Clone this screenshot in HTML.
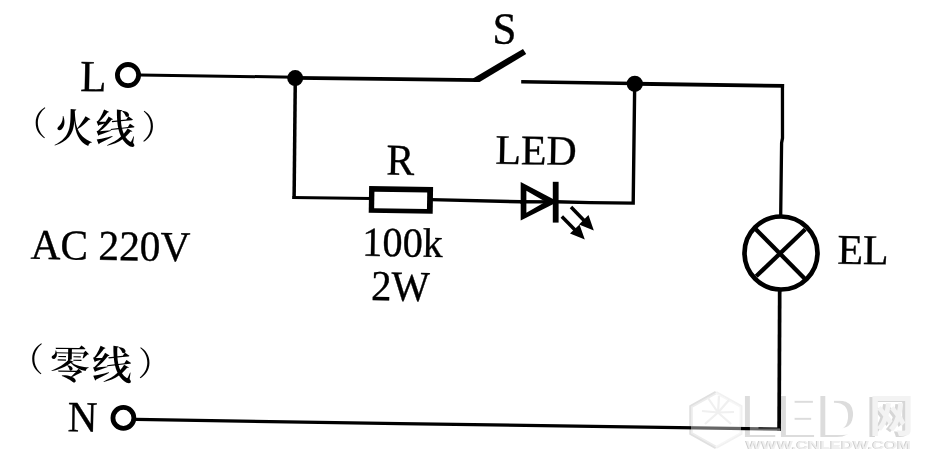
<!DOCTYPE html>
<html lang="zh">
<head>
<meta charset="utf-8">
<title>LED 指示开关电路</title>
<style>
  html, body { margin: 0; padding: 0; background: #fff; }
  body { width: 925px; height: 461px; overflow: hidden; position: relative; }
  svg { position: absolute; left: 0; top: 0; display: block; filter: grayscale(1); }
  .w { stroke: #000; fill: none; stroke-linecap: butt; stroke-linejoin: miter; }
  .lat { font-family: "Liberation Serif", serif; font-size: 41.6px; fill: #000; stroke: #000; stroke-width: 0.35px; }
  .cjk { font-family: "Liberation Serif", "Noto Serif CJK SC", serif; font-size: 42px; fill: #000; }
  .par { font-size: 33px; font-weight: 400; }
  .han { font-size: 40px; font-weight: 600; letter-spacing: 2px; }
  .wm  { font-family: "Liberation Sans", "Noto Sans CJK SC", sans-serif; font-weight: bold; }
</style>
</head>
<body>
<svg width="925" height="461" viewBox="0 0 925 461">
  <rect x="0" y="0" width="925" height="461" fill="#ffffff"/>

  <!-- watermark base pass (faint embossed logo) -->
  <g id="watermark">
    <path d="M716,392.5 L691,406.5 L691,433.5 L716,447.5" fill="none" stroke="#e0e0e0" stroke-width="3.5"/>
    <path d="M716,392.5 L741,406.5 L741,433.5 L716,447.5" fill="none" stroke="#f1f1f1" stroke-width="3"/>
    <g stroke="#e6e6e6" stroke-width="2.2" fill="none">
      <path d="M718,412.5 L708,398"/><path d="M718,412.5 L719,396"/><path d="M718,412.5 L729,400"/>
      <path d="M718,412.5 L734,412"/><path d="M718,412.5 L731,424"/><path d="M718,412.5 L705,424"/><path d="M718,412.5 L702,411"/>
    </g>
    <text class="wm" x="741" y="436.5" font-size="58.5" textLength="118" lengthAdjust="spacingAndGlyphs" fill="#dcdcdc">LED</text>
    <text class="wm" x="746" y="435" font-size="58.5" textLength="118" lengthAdjust="spacingAndGlyphs" fill="#ffffff">LED</text>
    <text class="wm" x="866" y="432.5" font-size="45" fill="#d6d6d6">网</text>
    <text class="wm" x="869" y="431.5" font-size="45" fill="#f3f3f3">网</text>
    <text class="wm" x="745" y="449.2" font-size="11.5" textLength="165" lengthAdjust="spacingAndGlyphs" fill="#cacaca">WWW.CNLEDW.COM</text>
    <text class="wm" x="746" y="448.6" font-size="11.5" textLength="165" lengthAdjust="spacingAndGlyphs" fill="#efefef">WWW.CNLEDW.COM</text>
  </g>

  <!-- wires -->
  <g id="wires">
    <!-- top wire: L terminal to first junction -->
    <path class="w" d="M139.5,75 L295.2,77.2" stroke-width="3"/>
    <!-- first junction to switch -->
    <path class="w" d="M295.2,77.8 L400,79.1 L478,80.15" stroke-width="3.8"/>
    <!-- switch blade -->
    <polygon points="472.9,78.6 523,48.9 526.2,54.1 479.6,81.9 474,81.9" fill="#000"/>
    <!-- top wire: switch to second junction -->
    <path class="w" d="M521.2,81.8 L634.8,83.4" stroke-width="3.5"/>
    <!-- second junction to lamp -->
    <path class="w" d="M634.8,83.8 L784.1,85.9" stroke-width="3.9"/>
    <path class="w" d="M782.45,84 L782.5,138 L781.6,143 L780.7,215" stroke-width="3.3"/>
    <!-- lamp to N -->
    <path class="w" stroke-width="3.7" d="M779.7,290 L779.1,430.8"/>
    <path class="w" stroke-width="3.2" d="M780.95,429.2 L400,423.6 L136,419.4"/>
    <!-- left branch -->
    <path class="w" d="M295.3,78 L294.1,199.1" stroke-width="3.5"/>
    <path class="w" d="M292.4,197.55 L371,198.5" stroke-width="3.1"/>
    <!-- resistor to diode to right branch -->
    <path class="w" stroke-width="3.4" d="M431,199.65 L521,201.75 L556,201.8 L590,202.65 L633.2,203.1 L634.7,84"/>
  </g>

  <!-- junction dots -->
  <circle cx="295.2" cy="78.05" r="8" fill="#000"/>
  <circle cx="634.8" cy="83.85" r="8.1" fill="#000"/>

  <!-- terminals -->
  <circle cx="128" cy="75.1" r="10.6" fill="#fff" stroke="#000" stroke-width="4.8"/>
  <circle cx="123.4" cy="417.9" r="10.45" fill="#fff" stroke="#000" stroke-width="4.8"/>

  <!-- resistor -->
  <g transform="translate(0 0.3) rotate(0.9 400.9 199.6)">
    <rect x="368.9" y="186.1" width="64" height="26.9" fill="#000"/>
    <rect x="374.3" y="191.9" width="52.8" height="16.5" fill="#fff"/>
  </g>

  <!-- LED diode -->
  <g id="led">
    <polygon points="520.7,182 554,199.5 554,203.8 520.7,220.6" fill="#000"/>
    <polygon points="526.4,190.8 545.5,201.8 526.4,212.8" fill="#fff"/>
    <path d="M520,201.75 L556,201.8" stroke="#000" stroke-width="3.3" fill="none"/>
    <path d="M555.7,181.8 L555.7,222.6" stroke="#000" stroke-width="5.8" fill="none"/>
    <!-- emission arrows -->
    <path d="M571,207 L586,222.5" stroke="#000" stroke-width="3.5" fill="none"/>
    <polygon points="593.8,230.5 588.5,215 579,224.5" fill="#000"/>
    <path d="M561.8,216.5 L577,232" stroke="#000" stroke-width="3.5" fill="none"/>
    <polygon points="584.8,239.6 579.5,224.5 570,233.5" fill="#000"/>
  </g>

  <!-- lamp -->
  <g id="lamp">
    <circle cx="781" cy="253" r="36.5" fill="#fff" stroke="#000" stroke-width="4.7"/>
    <path d="M754.3,227.7 L805.3,279.2" stroke="#000" stroke-width="4.3" fill="none"/>
    <path d="M756.2,276.3 L805.3,229.3" stroke="#000" stroke-width="4.3" fill="none"/>
  </g>

  <!-- watermark highlight pass: lightens the wire where the logo crosses it -->
  <g id="watermark-top" fill="#ffffff" fill-opacity="0.4">
    <polygon points="716,392.5 741,406.5 741,433.5 716,447.5 691,433.5 691,406.5"/>
    <text class="wm" x="746" y="435" font-size="58.5" textLength="118" lengthAdjust="spacingAndGlyphs" fill="#ffffff">LED</text>
  </g>

  <!-- labels -->
  <g id="labels">
    <text class="lat" transform="translate(80.00 90.88) rotate(0.9) scale(1.0338 1.0659)">L</text>
    <text class="lat" transform="translate(67.62 431.22) rotate(0.9) scale(0.9913 1.0426)">N</text>
    <text class="lat" transform="translate(492.17 43.40) rotate(0.9) scale(1.0390 1.0709)">S</text>
    <text class="lat" transform="translate(386.15 174.45) rotate(0.9) scale(1.0038 1.0551)">R</text>
    <text class="lat" transform="translate(495.13 163.75) rotate(0.9) scale(1.0064 1.0125)">LED</text>
    <text class="lat" transform="translate(837.18 263.70) rotate(0.9) scale(1.0095 1.0195)">EL</text>
    <text class="lat" transform="translate(362.12 255.78) rotate(0.9) scale(0.9687 0.9926)">100k</text>
    <text class="lat" transform="translate(371.07 300.07) rotate(0.9) scale(0.9754 1.0283)">2W</text>
    <text class="lat" transform="translate(30.50 258.80) rotate(0.9) scale(0.9938 1.0236)">AC 220V</text>
    <text class="cjk" y="143" transform="rotate(0.9 95 128)"><tspan class="par" x="14" dy="-7">（</tspan><tspan class="han" x="53.5" dy="7">火线</tspan><tspan class="par" x="141.5" dy="-5">）</tspan></text>
    <text class="cjk" y="379" transform="rotate(0.9 91 364.5)"><tspan class="par" x="10.5" dy="-7">（</tspan><tspan class="han" x="50" dy="7.3">零线</tspan><tspan class="par" x="138" dy="-4.8">）</tspan></text>
  </g>
</svg>
</body>
</html>
